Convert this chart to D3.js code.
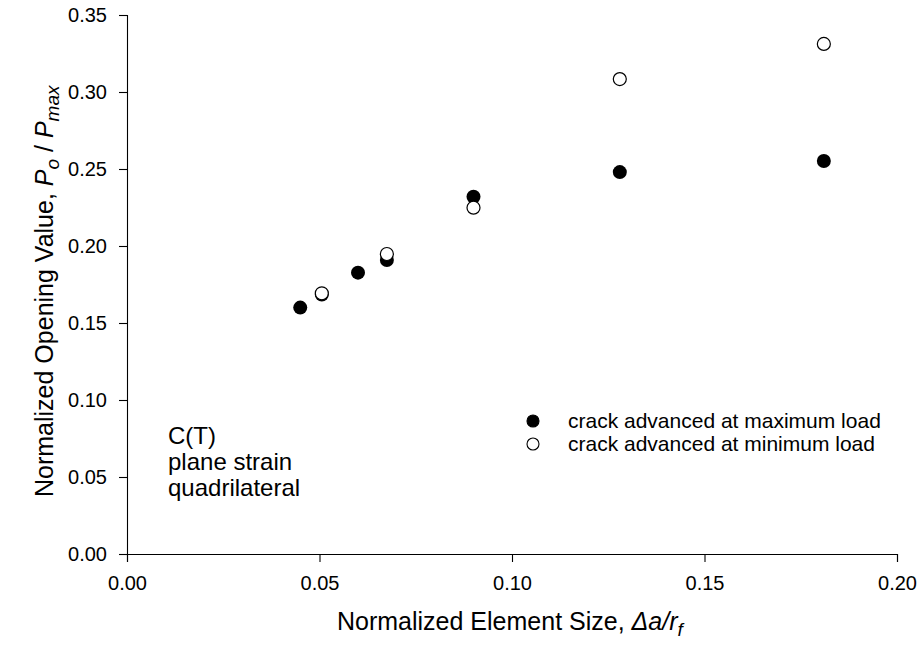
<!DOCTYPE html>
<html>
<head>
<meta charset="utf-8">
<script src="https://cdn.jsdelivr.net/npm/d3@7"></script>
<style>
  body { margin: 0; background: #fff; }
  svg text { font-family: "Liberation Sans", Arial, sans-serif; fill: #000; }
</style>
</head>
<body>
<svg id="chart" width="920" height="651"></svg>
<script>
// element size (da/rf) for each run
const elementSize = [0.045, 0.0506, 0.060, 0.0675, 0.090, 0.128, 0.181];
// opening load ratio, crack advanced at max load
const atMaxLoad = [0.160, 0.1685, 0.1827, 0.1909, 0.2320, 0.248, 0.2552];
// crack advanced at min load (no value for 0.045 and 0.060)
const minLoadSize = [0.0506, 0.0675, 0.090, 0.128, 0.181];
const atMinLoad = [0.1693, 0.1948, 0.2249, 0.3084, 0.3312];

const xTicks = [0, 0.05, 0.10, 0.15, 0.20];
const yTicks = [0, 0.05, 0.10, 0.15, 0.20, 0.25, 0.30, 0.35];
const legendLabels = ["crack advanced at maximum load", "crack advanced at minimum load"];
const noteLines = ["C(T)", "plane strain", "quadrilateral"];

const svg = d3.select("#chart");
const plotL = 127, plotR = 897, plotT = 15, plotB = 554;

const x = d3.scaleLinear().domain([0, 0.20]).range([plotL, plotR]);
const y = d3.scaleLinear().domain([0, 0.35]).range([plotB, plotT]);

const xAxis = svg.append("g")
  .attr("transform", `translate(0,${plotB})`)
  .call(d3.axisBottom(x).tickValues(xTicks).tickFormat(d3.format(".2f")).tickSize(8).tickPadding(14));
const yAxis = svg.append("g")
  .attr("transform", `translate(${plotL},0)`)
  .call(d3.axisLeft(y).tickValues(yTicks).tickFormat(d3.format(".2f")).tickSize(8).tickPadding(12));

[xAxis, yAxis].forEach(a => {
  a.selectAll("path, line").attr("stroke", "#000").attr("stroke-width", 1.1);
  a.selectAll("text").style("font-size", "20px").attr("fill", "#000");
  a.attr("font-family", null);
});

// axis titles
const xt = svg.append("text")
  .attr("x", 337)
  .attr("y", 630)
  .style("font-size", "25px");
xt.append("tspan").text("Normalized Element Size, ");
xt.append("tspan").attr("font-style", "italic").text("\u0394a/r");
xt.append("tspan").attr("font-style", "italic").attr("font-size", "19px").attr("dy", 6).text("f");

const yt = svg.append("text")
  .attr("transform", "translate(53,497) rotate(-90)")
  .style("font-size", "25px");
yt.append("tspan").text("Normalized Opening Value, ");
yt.append("tspan").attr("font-style", "italic").text("P");
yt.append("tspan").attr("font-style", "italic").attr("font-size", "19px").attr("dy", 6).text("o");
yt.append("tspan").attr("dy", -6).text(" / ");
yt.append("tspan").attr("font-style", "italic").text("P");
yt.append("tspan").attr("font-style", "italic").attr("font-size", "19px").attr("dy", 6).text("max");

// points
svg.append("g").selectAll("circle")
  .data(elementSize.map((d, i) => [d, atMaxLoad[i]]))
  .join("circle")
  .attr("cx", d => x(d[0]))
  .attr("cy", d => y(d[1]))
  .attr("r", 7)
  .attr("fill", "#000");

svg.append("g").selectAll("circle")
  .data(minLoadSize.map((d, i) => [d, atMinLoad[i]]))
  .join("circle")
  .attr("cx", d => x(d[0]))
  .attr("cy", d => y(d[1]))
  .attr("r", 6.5)
  .attr("fill", "#fff")
  .attr("stroke", "#000")
  .attr("stroke-width", 1.2);

// legend
const legend = svg.append("g");
legendLabels.forEach((label, i) => {
  const ly = 421 + i * 23;
  legend.append("circle")
    .attr("cx", 533).attr("cy", ly).attr("r", 6)
    .attr("fill", i === 0 ? "#000" : "#fff")
    .attr("stroke", "#000").attr("stroke-width", 1.1);
  legend.append("text")
    .attr("x", 568).attr("y", ly + 7)
    .style("font-size", "21px")
    .text(label);
});

// annotation
svg.append("g").selectAll("text")
  .data(noteLines)
  .join("text")
  .attr("x", 168)
  .attr("y", (d, i) => 444 + i * 26)
  .style("font-size", "24px")
  .text(d => d);
</script>
</body>
</html>
